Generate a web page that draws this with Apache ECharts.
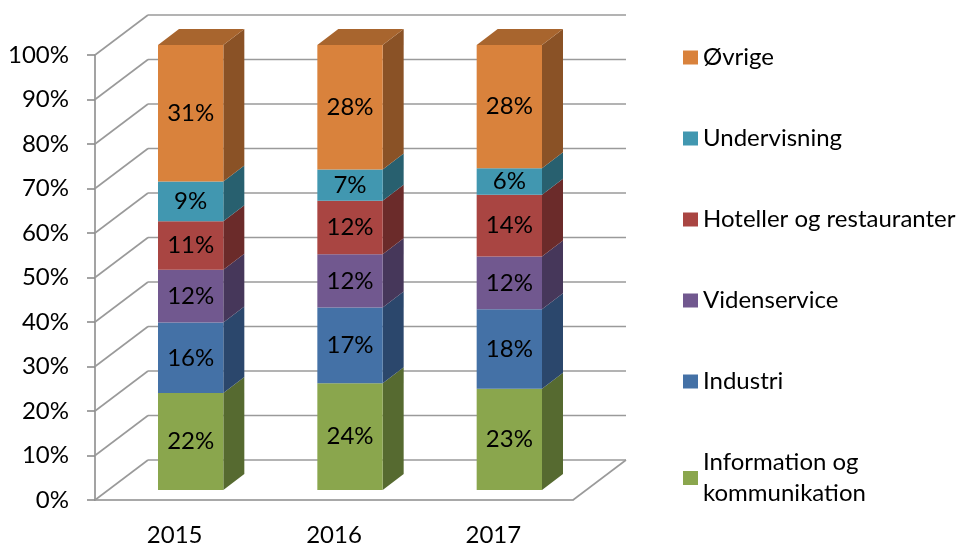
<!DOCTYPE html>
<html lang="da">
<head>
    <meta charset="UTF-8">
    <title>Brancher 2015-2017</title>
    <script src="https://cdn.jsdelivr.net/npm/echarts@6/dist/echarts.min.js"></script>
    <style>
        html, body {margin: 0; padding: 0; background: #fff;}
        #main {width: 963px; height: 547px;}
    </style>
</head>
<body>
<div id="main"></div>
<script>
    // data, bottom layer first
    var years = ['2015', '2016', '2017'];
    var names = ['Information og\nkommunikation', 'Industri', 'Videnservice', 'Hoteller og restauranter', 'Undervisning', 'Øvrige'];
    var infoKom = [22, 24, 23];
    var industri = [16, 17, 18];
    var viden = [12, 12, 12];
    var hoteller = [11, 12, 14];
    var undervisning = [9, 7, 6];
    var oevrige = [31, 28, 28];
    var yTicks = [0, 10, 20, 30, 40, 50, 60, 70, 80, 90, 100];

    var layers = [infoKom, industri, viden, hoteller, undervisning, oevrige];
    // front, side, top shades
    var colors = [
        ['#8aa64d', '#566a30', '#6f8a3c'],
        ['#4471a6', '#2b476c', '#375d88'],
        ['#71588f', '#46375a', '#5c4875'],
        ['#a94542', '#6b2b2a', '#8a3835'],
        ['#4197b0', '#28606f', '#347d90'],
        ['#d9823c', '#8a5226', '#a8652e']
    ];

    var FONT = 'Lato';
    var FS = 24;
    var BAR_OFF = [16, -10];   // front face of bars relative to front plane
    var BAR_DEPTH = [21, -16];
    var WALL = [53, -40];

    // 100% stacking
    var totals = years.map(function (y, i) {
        return layers.reduce(function (s, l) { return s + l[i]; }, 0);
    });

    var series = [];

    // walls + floor
    series.push({
        type: 'custom',
        name: 'walls',
        silent: true,
        z: 1,
        data: yTicks.map(function (v) { return [0, v]; }),
        renderItem: function (params, api) {
            var cs = params.coordSys;
            var y = api.coord([0, api.value(1)])[1];
            var x0 = cs.x, x1 = cs.x + cs.width;
            var st = {stroke: '#9a9a9a', lineWidth: 1.6};
            var kids = [
                {type: 'line', shape: {x1: x0, y1: y, x2: x0 + WALL[0], y2: y + WALL[1]}, style: st},
                {type: 'line', shape: {x1: x0 + WALL[0], y1: y + WALL[1], x2: x1 + WALL[0], y2: y + WALL[1]}, style: st}
            ];
            if (api.value(1) === 0) {
                kids.push({type: 'line', shape: {x1: x1, y1: y, x2: x1 + WALL[0], y2: y + WALL[1]}, style: st});
            }
            return {type: 'group', children: kids};
        }
    });

    layers.forEach(function (layer, li) {
        var data = layer.map(function (v, ci) {
            var below = 0;
            for (var k = 0; k < li; k++) below += layers[k][ci];
            return [ci, below / totals[ci] * 100, (below + v) / totals[ci] * 100, v];
        });
        var last = li === layers.length - 1;
        series.push({
            type: 'custom',
            name: names[li],
            z: 5,
            itemStyle: {color: colors[li][0]},
            data: data,
            renderItem: function (params, api) {
                var p0 = api.coord([api.value(0), api.value(1)]);
                var p1 = api.coord([api.value(0), api.value(2)]);
                var bw = api.size([1, 0])[0] * 0.41;
                var l = p0[0] - bw / 2 + BAR_OFF[0];
                var r = l + bw;
                var b = p0[1] + BAR_OFF[1];
                var t = p1[1] + BAR_OFF[1];
                var dx = BAR_DEPTH[0], dy = BAR_DEPTH[1];
                var kids = [
                    {type: 'polygon', shape: {points: [[r, b], [r + dx, b + dy], [r + dx, t + dy], [r, t]]},
                        style: {fill: colors[li][1]}},
                    {type: 'rect', shape: {x: l, y: t, width: bw, height: b - t},
                        style: {fill: colors[li][0]}},
                    {type: 'text', x: l + bw / 2, y: (t + b) / 2,
                        style: {text: api.value(3) + '%', fill: '#000', font: FS + 'px ' + FONT,
                            align: 'center', verticalAlign: 'middle'}}
                ];
                if (last) {
                    kids.push({type: 'polygon', shape: {points: [[l, t], [r, t], [r + dx, t + dy], [l + dx, t + dy]]},
                        style: {fill: colors[li][2]}});
                }
                return {type: 'group', children: kids};
            }
        });
    });

    var chart = echarts.init(document.getElementById('main'));
    chart.setOption({
        animation: false,
        textStyle: {fontFamily: FONT},
        legend: {
            orient: 'vertical',
            left: 678,
            top: 37,
            itemWidth: 15,
            itemHeight: 14,
            itemGap: 50,
            icon: 'rect',
            data: names.slice().reverse(),
            textStyle: {fontSize: FS, lineHeight: 31, color: '#000', fontFamily: FONT}
        },
        grid: {left: 95, right: 390, top: 55, bottom: 44},
        xAxis: {
            type: 'category',
            data: years,
            axisLine: {lineStyle: {color: '#8c8c8c', width: 1.6}},
            axisTick: {length: 8, lineStyle: {color: '#8c8c8c', width: 1.6}},
            axisLabel: {color: '#000', fontSize: FS, margin: 23, fontFamily: FONT}
        },
        yAxis: {
            type: 'value',
            min: 0,
            max: 100,
            interval: 10,
            axisLine: {show: true, lineStyle: {color: '#8c8c8c', width: 1.6}},
            axisTick: {show: true, length: 8, lineStyle: {color: '#8c8c8c', width: 1.6}},
            splitLine: {show: false},
            axisLabel: {color: '#000', fontSize: FS, margin: 26, formatter: '{value}%', fontFamily: FONT}
        },
        series: series
    });
</script>
</body>
</html>
